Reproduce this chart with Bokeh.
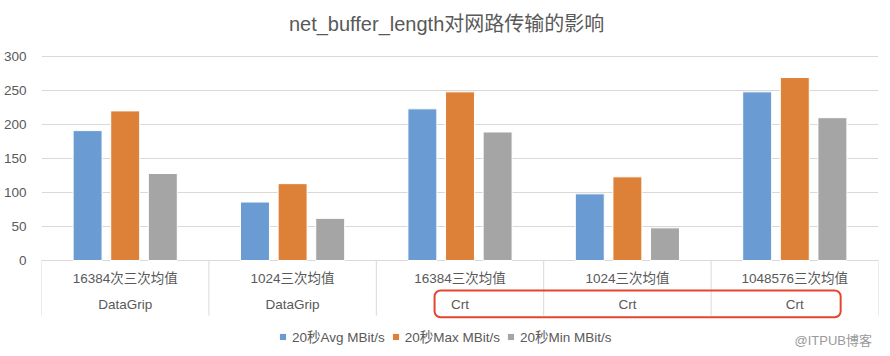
from bokeh.plotting import figure
from bokeh.models import (Range1d, FixedTicker, ColumnDataSource, Legend, LegendItem,
                          BoxAnnotation, Label)
from bokeh.transform import dodge
from bokeh.core.properties import value
from bokeh.embed import file_html
from bokeh.resources import INLINE

# ---- data ----
title = "net_buffer_length对网路传输的影响"
categories = ["16384次三次均值", "1024三次均值", "16384三次均值", "1024三次均值", "1048576三次均值"]
tools = ["DataGrip", "DataGrip", "Crt", "Crt", "Crt"]
avg_vals = [191, 86, 223, 98, 248]
max_vals = [220, 113, 248, 123, 269]
min_vals = [128, 62, 189, 48, 210]
series_names = ["20秒Avg MBit/s", "20秒Max MBit/s", "20秒Min MBit/s"]
y_ticks = [0, 50, 100, 150, 200, 250, 300]
watermark = "@ITPUB博客"

FONT_S = "Liberation Sans, Noto Sans CJK SC"
FONT = value(FONT_S)
TXT = "#595959"
colors = ["#6A9BD3", "#DD8139", "#A5A5A5"]

n = len(categories)
src = ColumnDataSource(dict(
    x=[i + 0.5 for i in range(n)],
    cat=categories, tool=tools,
    avg=avg_vals, mx=max_vals, mn=min_vals,
))

p = figure(width=890, height=356, output_backend="svg", toolbar_location=None,
           x_range=Range1d(0, n), y_range=Range1d(-141.18, 382.35),
           x_axis_type=None, min_border_left=39, min_border_right=12,
           min_border_top=0, min_border_bottom=0)
p.outline_line_color = None
p.background_fill_color = "white"
p.border_fill_color = "white"

yax = p.yaxis[0]
yax.ticker = FixedTicker(ticks=y_ticks)
yax.axis_line_color = None
yax.major_tick_line_color = None
yax.minor_tick_line_color = None
yax.major_label_standoff = 9
yax.major_label_text_font = "Liberation Sans"
yax.major_label_text_font_size = "13.5px"
yax.major_label_text_color = TXT
p.ygrid.grid_line_color = "#d9d9d9"
p.ygrid.ticker = FixedTicker(ticks=y_ticks)
p.xgrid.visible = False

bw = 0.173
off = 0.2247
renderers = []
for col, c, o in zip(["avg", "mx", "mn"], colors, [-off, 0, off]):
    r = p.vbar(x=dodge("x", o, range=p.x_range), top=col, width=bw, bottom=0,
               source=src, fill_color=c, line_color="white", line_width=1)
    renderers.append(r)

# category separators
seps = list(range(n + 1))
p.segment(x0=seps, y0=[0] * (n + 1), x1=seps, y1=[-81] * (n + 1),
          line_color="#d9d9d9", line_width=1)

p.text(x="x", y=-26.5, text="cat", source=src, text_align="center",
       text_baseline="middle", text_font=FONT, text_font_size="13.5px", text_color=TXT)
p.text(x="x", y=-64.5, text="tool", source=src, text_align="center",
       text_baseline="middle", text_font=FONT, text_font_size="13.5px", text_color=TXT)

# red highlight box
p.add_layout(BoxAnnotation(left=2.348, right=4.774, top=-44.1, bottom=-83.4,
                           fill_alpha=0, line_color="#E5452F", line_alpha=1,
                           line_width=2, border_radius=6))

# title
p.add_layout(Label(x=2.42, y=(260 - 24) / 0.68, text=title, text_align="center",
                   text_baseline="middle", text_font=FONT_S, text_font_size="20px",
                   text_color=TXT))

# watermark
p.add_layout(Label(x=4.73, y=-117.6, text=watermark, text_align="center",
                   text_baseline="middle", text_font=FONT_S, text_font_size="13px",
                   text_color="#9a9a9a"))

legend = Legend(items=[LegendItem(label=s, renderers=[r]) for s, r in zip(series_names, renderers)],
                orientation="horizontal", location=(237, 10))
legend.background_fill_alpha = 0
legend.border_line_color = None
legend.padding = 0
legend.margin = 0
legend.spacing = 6
legend.label_standoff = 5
legend.glyph_width = 9
legend.glyph_height = 9
legend.label_height = 14
legend.label_text_font = FONT_S
legend.label_text_font_size = "13.5px"
legend.label_text_color = TXT
p.add_layout(legend)

open("out.html", "w").write(file_html(p, INLINE))
